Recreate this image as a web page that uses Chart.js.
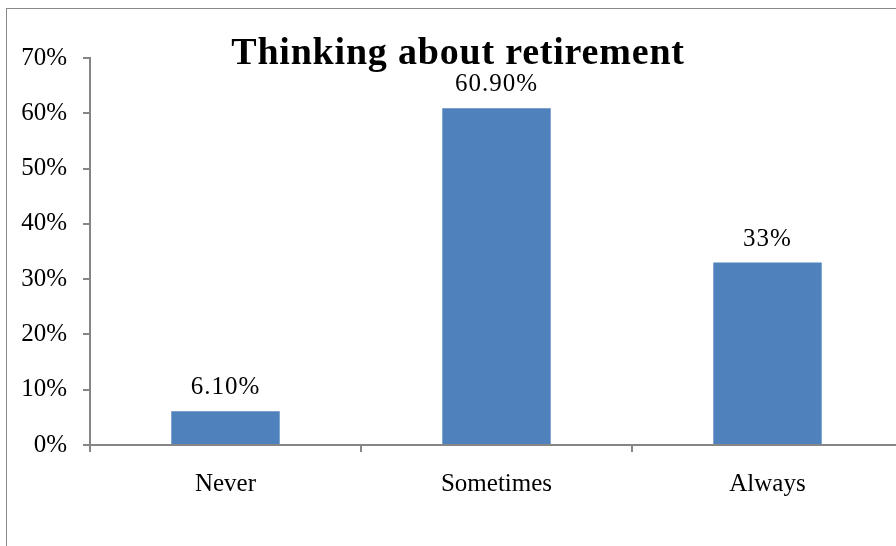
<!DOCTYPE html>
<html>
<head>
<meta charset="utf-8">
<script src="https://cdn.jsdelivr.net/npm/chart.js@4"></script>
<style>
  html, body { margin: 0; padding: 0; background: #fff; overflow: hidden; }
  #wrap { position: relative; width: 896px; height: 546px; overflow: hidden; }
  #frame {
    position: absolute; left: 6px; top: 8px; width: 1000px; height: 600px;
    border-left: 1px solid #8a8a8a; border-top: 1px solid #8a8a8a;
  }
  #chart { position: absolute; left: 0; top: 0; }
</style>
</head>
<body>
<div id="wrap">
  <div id="frame"></div>
  <canvas id="chart" width="904" height="546"></canvas>
</div>
<script>
// survey answers, share of respondents in percent
const categories = ["Never", "Sometimes", "Always"]
const shares = [6.1, 60.9, 33]
const valueLabels = ["6.10%", "60.90%", "33%"]
const yTicks = [0, 10, 20, 30, 40, 50, 60, 70]

const serif = "'Liberation Serif', 'Times New Roman', serif"
const axisGray = "#868686"

// title sits over the top of the plot, like the office chart it comes from
const overlayTitle = {
  id: "overlayTitle",
  afterDraw(chart) {
    const ctx = chart.ctx
    ctx.save()
    ctx.font = "bold 38px " + serif
    ctx.letterSpacing = "0.8px"
    ctx.fillStyle = "#000"
    ctx.textAlign = "center"
    ctx.textBaseline = "alphabetic"
    ctx.fillText("Thinking about retirement", (chart.width + 12) / 2, 64)
    ctx.restore()
  }
}

// value text above each bar
const barValues = {
  id: "barValues",
  afterDatasetsDraw(chart) {
    const ctx = chart.ctx
    const meta = chart.getDatasetMeta(0)
    ctx.save()
    ctx.font = "25px " + serif
    ctx.letterSpacing = "1px"
    ctx.fillStyle = "#000"
    ctx.textAlign = "center"
    ctx.textBaseline = "alphabetic"
    meta.data.forEach((bar, i) => {
      ctx.fillText(valueLabels[i], bar.x, bar.y - 17)
    })
    ctx.restore()
  }
}

new Chart(document.getElementById("chart"), {
  type: "bar",
  data: {
    labels: categories,
    datasets: [{
      data: shares,
      backgroundColor: "#4F81BD",
      categoryPercentage: 0.4,
      barPercentage: 1
    }]
  },
  options: {
    responsive: false,
    animation: false,
    layout: { padding: { top: 58, right: 1, left: 0, bottom: 0 } },
    plugins: {
      legend: { display: false },
      title: { display: false },
      tooltip: { enabled: false }
    },
    scales: {
      x: {
        grid: {
          offset: true,
          drawOnChartArea: false,
          tickLength: 7,
          color: axisGray,
          lineWidth: 2
        },
        border: { color: axisGray, width: 2 },
        ticks: {
          color: "#000",
          padding: 17,
          font: { family: serif, size: 25 }
        },
        afterFit(scale) { scale.height = 101 }
      },
      y: {
        min: 0,
        max: 70,
        grid: {
          drawOnChartArea: false,
          tickLength: 7,
          color: axisGray,
          lineWidth: 2
        },
        border: { color: axisGray, width: 2 },
        afterBuildTicks(scale) {
          scale.ticks = yTicks.map(v => ({ value: v }))
        },
        ticks: {
          color: "#000",
          padding: 16,
          font: { family: serif, size: 25 },
          callback: v => v + "%"
        },
        afterFit(scale) { scale.width = 90 }
      }
    }
  },
  plugins: [overlayTitle, barValues]
})
</script>
</body>
</html>
